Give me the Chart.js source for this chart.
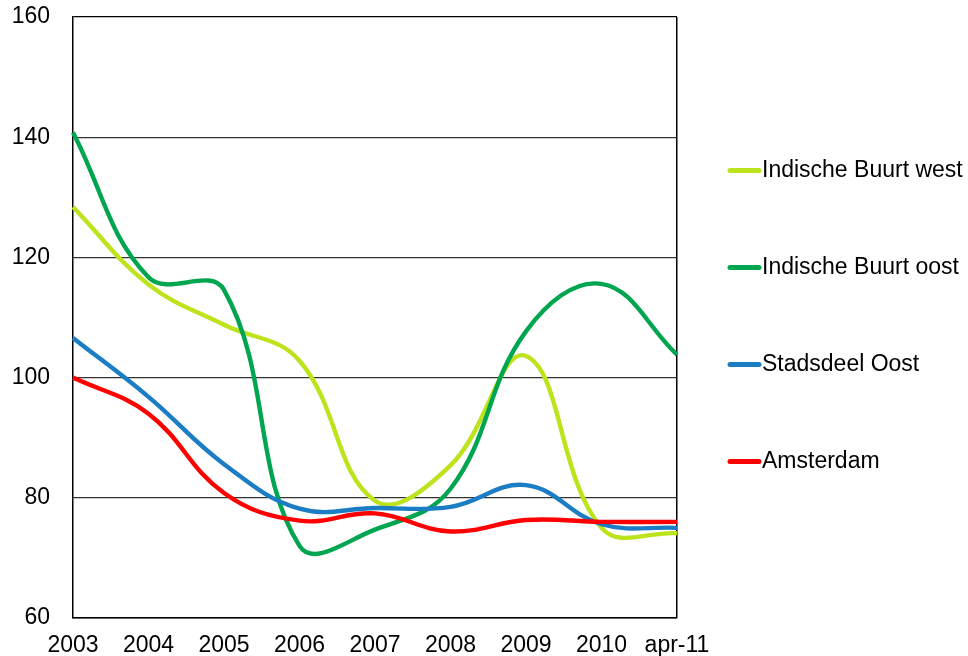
<!DOCTYPE html>
<html>
<head>
<meta charset="utf-8">
<script src="https://cdn.jsdelivr.net/npm/chart.js@4"></script>
<style>
  body { margin: 0; background: #fff; }
  #wrap { width: 968px; height: 656px; }
</style>
</head>
<body>
<div id="wrap"><canvas id="myChart" width="968" height="656"></canvas></div>
<script>
const years = ['2003', '2004', '2005', '2006', '2007', '2008', '2009', '2010', 'apr-11'];
const yTicks = [60, 80, 100, 120, 140, 160];

const indischeWest = [128.4, 115.5, 108.8, 102.8, 79.5, 85.4, 103.6, 75.0, 74.1];
const indischeOost = [140.8, 116.7, 114.6, 72.0, 74.7, 81.5, 107.7, 115.6, 103.8];
const stadsdeelOost = [106.6, 96.8, 85.6, 78.2, 78.3, 78.5, 82.1, 75.6, 75.0];
const amsterdam = [100, 94.0, 80.8, 76.2, 77.4, 74.4, 76.3, 76.0, 76.0];

const seriesNames = ['Indische Buurt west', 'Indische Buurt oost', 'Stadsdeel Oost', 'Amsterdam'];
const seriesColors = ['#bde31c', '#00a54f', '#1b7ec4', '#ff0000'];

Chart.defaults.font.family = '"Liberation Sans", Arial, sans-serif';
Chart.defaults.font.size = 23;
Chart.defaults.color = '#000';

// legend drawn by hand so the spacing can follow the original
const sideLegend = {
    id: 'sideLegend',
    afterDraw(chart) {
        const ctx = chart.ctx;
        const area = chart.chartArea;
        const mid = (area.top + area.bottom) / 2 - 1.5;
        const x0 = area.right + 51;
        ctx.save();
        ctx.font = '23px "Liberation Sans", Arial, sans-serif';
        ctx.textBaseline = 'middle';
        chart.data.datasets.forEach(function (ds, i) {
            const y = mid + (i - 1.5) * 97;
            ctx.strokeStyle = ds.borderColor;
            ctx.lineWidth = 5;
            ctx.lineCap = 'round';
            ctx.beginPath();
            ctx.moveTo(x0 + 2, y);
            ctx.lineTo(x0 + 31, y);
            ctx.stroke();
            ctx.fillStyle = '#000';
            ctx.fillText(ds.label, x0 + 34, y);
        });
        ctx.restore();
    }
};

function makeSet(i, values) {
    return {
        label: seriesNames[i],
        data: values,
        borderColor: seriesColors[i],
        backgroundColor: seriesColors[i],
        borderWidth: 4.4,
        pointRadius: 0,
        tension: 0.4,
        fill: false,
        order: 4 - i
    };
}

var ctx = document.getElementById('myChart').getContext('2d');
var myChart = new Chart(ctx, {
    type: 'line',
    data: {
        labels: years,
        datasets: [
            makeSet(0, indischeWest),
            makeSet(1, indischeOost),
            makeSet(2, stadsdeelOost),
            makeSet(3, amsterdam)
        ]
    },
    options: {
        responsive: false,
        animation: false,
        layout: { padding: { left: 0, top: 17, right: 291, bottom: 0 } },
        plugins: {
            legend: { display: false },
            tooltip: { enabled: false }
        },
        scales: {
            x: {
                offset: false,
                grid: {
                    drawTicks: false,
                    color: function (c) { return c.index === years.length - 1 ? '#000' : 'rgba(0,0,0,0)'; },
                    lineWidth: 1.5
                },
                border: { color: '#000', width: 1.5 },
                ticks: { padding: 14, maxRotation: 0, autoSkip: false },
                afterFit: function (scale) { scale.height = 38; }
            },
            y: {
                min: 60,
                max: 160,
                afterBuildTicks: function (scale) {
                    scale.ticks = yTicks.map(function (v) { return { value: v }; });
                },
                grid: {
                    drawTicks: false,
                    color: function (c) { return c.tick && c.tick.value === 160 ? '#000' : '#333'; },
                    lineWidth: 1.3
                },
                border: { color: '#000', width: 1.5 },
                ticks: { padding: 23 },
                afterFit: function (scale) {
                    scale.width = 73;
                    scale.paddingTop = 0;
                    scale.paddingBottom = 0;
                }
            }
        }
    },
    plugins: [sideLegend]
});
</script>
</body>
</html>
